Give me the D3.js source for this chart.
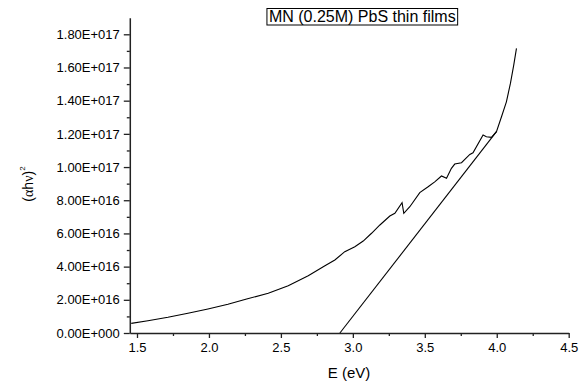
<!DOCTYPE html>
<html>
<head>
<meta charset="utf-8">
<script src="https://cdn.jsdelivr.net/npm/d3@7"></script>
<style>
  body { margin: 0; background: white; }
  text { font-family: "Liberation Sans", Arial, sans-serif; fill: #000; }
</style>
</head>
<body>
<script>
// DONNEES
const energie = [1.46, 1.576, 1.715, 1.854, 1.993, 2.132, 2.262, 2.412, 2.551, 2.69, 2.806, 2.875,
  2.944, 3.014, 3.072, 3.13, 3.188, 3.257, 3.292, 3.342, 3.354, 3.396, 3.465, 3.523, 3.569,
  3.616, 3.651, 3.685, 3.708, 3.755, 3.813, 3.835, 3.905, 3.928, 3.963, 3.998, 4.033, 4.067,
  4.095, 4.118, 4.137];
const alphaHv2 = [0.58e16, 0.74e16, 0.95e16, 1.19e16, 1.45e16, 1.73e16, 2.05e16, 2.39e16, 2.85e16,
  3.45e16, 4.05e16, 4.4e16, 4.9e16, 5.2e16, 5.54e16, 6.01e16, 6.51e16, 7.05e16, 7.21e16, 7.85e16,
  7.21e16, 7.61e16, 8.46e16, 8.81e16, 9.11e16, 9.46e16, 9.32e16, 9.92e16, 10.18e16, 10.26e16,
  10.76e16, 10.86e16, 11.93e16, 11.83e16, 11.79e16, 12.13e16, 13.03e16, 13.93e16, 15.04e16,
  16.14e16, 17.15e16];

// la tangente (extrapolation du gap)
const tangenteE = [2.91, 3.998];
const tangenteV = [0, 12.13e16];

const ticksX = [1.5, 2.0, 2.5, 3.0, 3.5, 4.0, 4.5];
const etiquettesX = ["1.5", "2.0", "2.5", "3.0", "3.5", "4.0", "4.5"];
const ticksY = [0, 2e16, 4e16, 6e16, 8e16, 10e16, 12e16, 14e16, 16e16, 18e16];
const etiquettesY = ["0.00E+000", "2.00E+016", "4.00E+016", "6.00E+016", "8.00E+016",
  "1.00E+017", "1.20E+017", "1.40E+017", "1.60E+017", "1.80E+017"];

const titreTexte = "MN (0.25M) PbS thin films";

// VARIABLE CADRE
const largeur = 585;
const hauteur = 385;

const svg = d3.select("body")
  .append("svg")
  .attr("width", largeur)
  .attr("height", hauteur);

const x = d3.scaleLinear().domain([1.45, 4.5]).range([129.8, 568.7]);
const y = d3.scaleLinear().domain([0, 1.9e17]).range([333, 17.7]);

// axe X
const axeX = svg.append("g")
  .attr("transform", `translate(0, ${y(0)})`)
  .call(d3.axisBottom(x)
    .tickValues(ticksX)
    .tickFormat((d, i) => etiquettesX[i])
    .tickSizeInner(5)
    .tickSizeOuter(0)
    .tickPadding(5));
axeX.select(".domain").attr("stroke", "#222").attr("stroke-width", 1.5);
axeX.selectAll(".tick line").attr("stroke", "#222").attr("stroke-width", 1.3);
axeX.selectAll(".tick text").style("font-size", "13px").style("font-family", "Liberation Sans, Arial, sans-serif");

// petites graduations X
svg.append("g")
  .attr("transform", `translate(0, ${y(0)})`)
  .call(d3.axisBottom(x)
    .tickValues(d3.range(1.75, 4.5, 0.5))
    .tickFormat("")
    .tickSizeInner(3)
    .tickSizeOuter(0))
  .call(g => g.select(".domain").remove())
  .selectAll(".tick line").attr("stroke", "#222").attr("stroke-width", 1.3);

// axe Y
const axeY = svg.append("g")
  .attr("transform", `translate(${x(1.45)}, 0)`)
  .call(d3.axisLeft(y)
    .tickValues(ticksY)
    .tickFormat((d, i) => etiquettesY[i])
    .tickSizeInner(6)
    .tickSizeOuter(0)
    .tickPadding(4));
axeY.select(".domain").attr("stroke", "#222").attr("stroke-width", 1.5);
axeY.selectAll(".tick line").attr("stroke", "#222").attr("stroke-width", 1.3);
axeY.selectAll(".tick text").style("font-size", "13px").style("font-family", "Liberation Sans, Arial, sans-serif");

// petites graduations Y
svg.append("g")
  .attr("transform", `translate(${x(1.45)}, 0)`)
  .call(d3.axisLeft(y)
    .tickValues(d3.range(1e16, 1.9e17, 2e16))
    .tickFormat("")
    .tickSizeInner(3)
    .tickSizeOuter(0))
  .call(g => g.select(".domain").remove())
  .selectAll(".tick line").attr("stroke", "#222").attr("stroke-width", 1.3);

// la courbe
const ligne = d3.line()
  .x(d => x(d[0]))
  .y(d => y(d[1]));

svg.append("path")
  .datum(energie.map((e, i) => [e, alphaHv2[i]]))
  .attr("fill", "none")
  .attr("stroke", "black")
  .attr("stroke-width", 1.1)
  .attr("d", ligne);

svg.append("path")
  .datum(tangenteE.map((e, i) => [e, tangenteV[i]]))
  .attr("fill", "none")
  .attr("stroke", "black")
  .attr("stroke-width", 1.1)
  .attr("d", ligne);

// titre encadre
const titre = svg.append("text")
  .attr("x", 362.3)
  .attr("y", 22)
  .attr("text-anchor", "middle")
  .style("font-size", "16px")
  .text(titreTexte);
const bb = titre.node().getBBox();
svg.append("rect")
  .attr("x", bb.x - 2)
  .attr("y", 8.5)
  .attr("width", bb.width + 4)
  .attr("height", 16.5)
  .attr("fill", "none")
  .attr("stroke", "black")
  .attr("stroke-width", 1);

// legendes des axes
svg.append("text")
  .attr("x", 349)
  .attr("y", 378)
  .attr("text-anchor", "middle")
  .style("font-size", "15px")
  .text("E (eV)");

const labelY = svg.append("text")
  .attr("transform", "translate(33, 184) rotate(-90)")
  .attr("text-anchor", "middle")
  .style("font-size", "14px");
labelY.append("tspan").text("(");
labelY.append("tspan").style("font-family", "Liberation Serif, serif").text("α");
labelY.append("tspan").text("h");
labelY.append("tspan").style("font-family", "Liberation Serif, serif").text("ν");
labelY.append("tspan").text(")");
labelY.append("tspan").attr("dy", -8).style("font-size", "8px").text("2");
</script>
</body>
</html>
